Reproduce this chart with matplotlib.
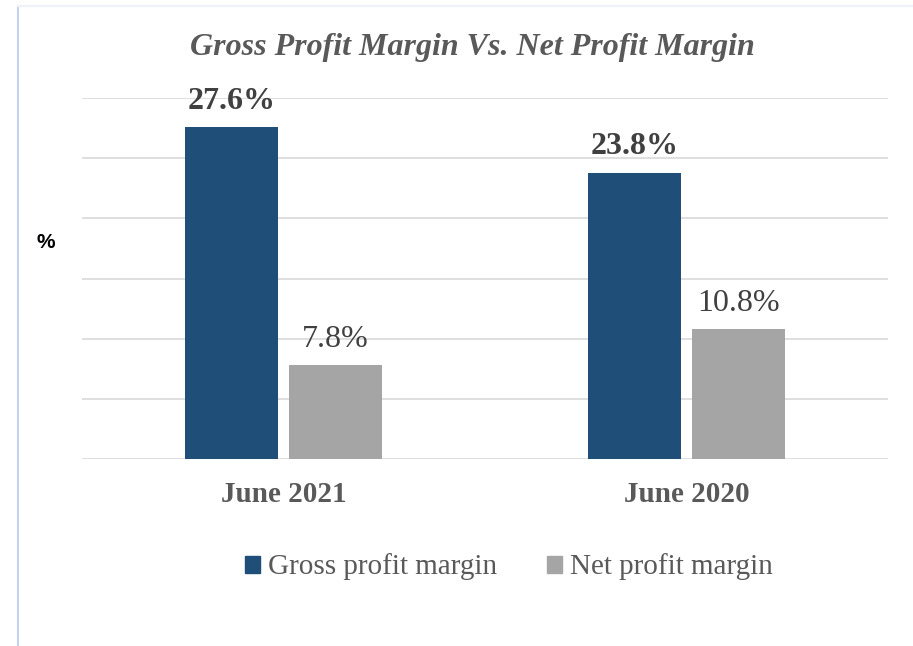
import matplotlib.pyplot as plt
from matplotlib.patches import Patch
from matplotlib.lines import Line2D

categories = ['June 2021', 'June 2020']
gross_margin = [27.6, 23.8]
net_margin = [7.8, 10.8]
series_names = ['Gross profit margin', 'Net profit margin']

W, H = 913, 646
fig = plt.figure(figsize=(W / 100, H / 100), dpi=100)
ax = fig.add_axes([82 / W, 1 - 459 / H, 806 / W, 361 / H])

gross_col = '#1F4E79'
net_col = '#A5A5A5'
x = list(range(len(categories)))
w = 0.233
off = 0.129

ax.bar([i - off for i in x], gross_margin, width=w, color=gross_col, zorder=3)
ax.bar([i + off for i in x], net_margin, width=w, color=net_col, zorder=3)

for i in x:
    ax.annotate(f'{gross_margin[i]}%', (i - off, gross_margin[i]), xytext=(0, 8),
                textcoords='offset points', ha='center', va='bottom',
                family='Liberation Serif', fontweight='bold', fontsize=23, color='#404040')
    ax.annotate(f'{net_margin[i]}%', (i + off, net_margin[i]), xytext=(0, 8),
                textcoords='offset points', ha='center', va='bottom',
                family='Liberation Serif', fontsize=23, color='#404040')

ax.set_xlim(-0.5, 1.5)
ax.set_ylim(0, 30)
ax.set_yticks(range(0, 31, 5))
ax.yaxis.grid(True, color='#d9d9d9', linewidth=1.2, zorder=0)
ax.tick_params(left=False, bottom=False, labelleft=False)
for s in ax.spines.values():
    s.set_visible(False)
ax.set_xticks(x)
ax.set_xticklabels(categories, family='Liberation Serif', fontweight='bold',
                   fontsize=21, color='#595959')
ax.tick_params(axis='x', pad=12)

fig.text(472 / W, 1 - 47 / H, 'Gross Profit Margin Vs. Net Profit Margin',
         ha='center', va='center', family='Liberation Serif', fontweight='bold',
         style='italic', fontsize=23, color='#595959')
fig.text(46 / W, 1 - 243 / H, '%', ha='center', va='center',
         family='Liberation Sans', fontweight='bold', fontsize=15, color='black')

handles = [Patch(color=gross_col), Patch(color=net_col)]
fig.legend(handles, series_names, loc='center', bbox_to_anchor=(509 / W, 1 - 567 / H),
           ncol=2, frameon=False, handlelength=0.52, handleheight=0.52,
           handletextpad=0.28, columnspacing=1.7,
           prop={'family': 'Liberation Serif', 'size': 21}, labelcolor='#595959')

# chart frame
fig.add_artist(Line2D([18 / W, 18 / W], [0, 1 - 6 / H], color='#c5d4ee', linewidth=1.5))
fig.add_artist(Line2D([18 / W, 1], [1 - 6 / H, 1 - 6 / H], color='#eef1f8', linewidth=1.5))

fig.savefig('out.png', dpi=100)
